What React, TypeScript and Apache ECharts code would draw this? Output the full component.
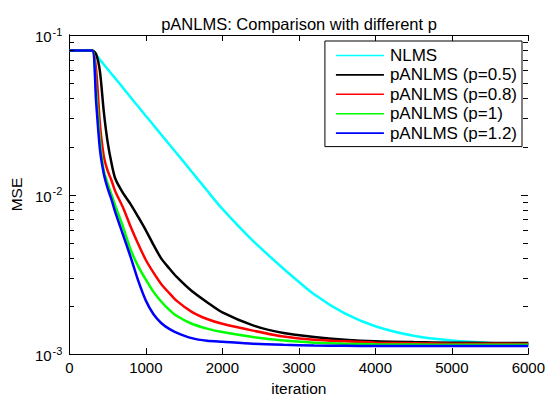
import React, { useEffect, useRef } from "react";
import * as echarts from "echarts";

const iterations = [0, 100, 200, 300, 350, 400, 450, 500, 550, 600, 700, 800, 900, 1000, 1100, 1200, 1300, 1400, 1600, 1800, 2000, 2400, 2800, 3200, 3600, 4000, 4500, 5000, 5500, 6000];

const nlms = [0.08, 0.08, 0.08, 0.08, 0.0748, 0.07, 0.0653, 0.0611, 0.0571, 0.0535, 0.0467, 0.0407, 0.0356, 0.0311, 0.0272, 0.0238, 0.0208, 0.0182, 0.0139, 0.01059, 0.00813, 0.00513, 0.00343, 0.002371, 0.001799, 0.001496, 0.001303, 0.001216, 0.001175, 0.001161];
const p05 = [0.08, 0.08, 0.08, 0.08, 0.0759, 0.0589, 0.0331, 0.0214, 0.0158, 0.0126, 0.01023, 0.00871, 0.00724, 0.00597, 0.00484, 0.00398, 0.00347, 0.003055, 0.002483, 0.002113, 0.001824, 0.001514, 0.001355, 0.001279, 0.00123, 0.001202, 0.001189, 0.00118, 0.001175, 0.001175];
const p08 = [0.08, 0.08, 0.08, 0.08, 0.0603, 0.0275, 0.0174, 0.0141, 0.0123, 0.01047, 0.00832, 0.00631, 0.0049, 0.00389, 0.00324, 0.002754, 0.00243, 0.002163, 0.001841, 0.00166, 0.001549, 0.001403, 0.001288, 0.00123, 0.001202, 0.00118, 0.001169, 0.001161, 0.001161, 0.001159];
const p10 = [0.08, 0.08, 0.08, 0.08, 0.0447, 0.0219, 0.0141, 0.01175, 0.01, 0.00851, 0.00631, 0.00452, 0.00355, 0.00293, 0.002455, 0.002138, 0.001905, 0.001738, 0.001549, 0.001445, 0.001374, 0.001279, 0.001216, 0.00118, 0.001161, 0.001153, 0.001148, 0.001143, 0.001143, 0.001143];
const p12 = [0.08, 0.08, 0.08, 0.08, 0.038, 0.0191, 0.0135, 0.01096, 0.00933, 0.00776, 0.00562, 0.00407, 0.002884, 0.002163, 0.001778, 0.001567, 0.001445, 0.001365, 0.001259, 0.001211, 0.001194, 0.001161, 0.001143, 0.001132, 0.001127, 0.001122, 0.001122, 0.001122, 0.001122, 0.001122];

const seriesNames = ["NLMS", "pANLMS (p=0.5)", "pANLMS (p=0.8)", "pANLMS (p=1)", "pANLMS (p=1.2)"];
const seriesColors = ["#00ffff", "#000000", "#ff0000", "#00ff00", "#0000ff"];
const seriesValues = [nlms, p05, p08, p10, p12];

const xTicks = [0, 1000, 2000, 3000, 4000, 5000, 6000];
const majorYTicks = [0.001, 0.01, 0.1];
const minorYTicks = [0.002, 0.003, 0.004, 0.005, 0.006, 0.007, 0.008, 0.009, 0.02, 0.03, 0.04, 0.05, 0.06, 0.07, 0.08, 0.09];

const FONT = "Liberation Sans";

export default function App() {
  const ref = useRef<HTMLDivElement>(null);
  useEffect(() => {
    document.body.style.margin = "0";
    const chart = echarts.init(ref.current!, null, { renderer: "svg" });
    const yLabel = (v: number) => {
      const e = Math.round(Math.log10(v));
      return `{b|10}{s|${e}}`;
    };
    const yRich = {
      b: { fontSize: 15, fontFamily: FONT, color: "#000", lineHeight: 18, verticalAlign: "bottom" },
      s: { fontSize: 11, fontFamily: FONT, color: "#000", lineHeight: 18, verticalAlign: "top", padding: [0, 0, 6, 1] },
    };
    const lineSeries = seriesNames.map((name, k) => ({
      name,
      type: "line",
      data: iterations.map((it, i) => [it, seriesValues[k][i]]),
      showSymbol: false,
      symbol: "none",
      smooth: 0.25,
      lineStyle: { color: seriesColors[k], width: 2.5 },
      itemStyle: { color: seriesColors[k] },
      z: 2 + k,
    }));
    chart.setOption({
      animation: false,
      backgroundColor: "#fff",
      title: {
        text: "pANLMS: Comparison with different p",
        left: 294,
        top: 10,
        textAlign: "center",
        textStyle: { fontFamily: FONT, fontSize: 16.5, fontWeight: "normal", color: "#000" },
      },
      grid: { left: 69, right: 19, top: 35, bottom: 42 },
      legend: {
        data: seriesNames,
        orient: "vertical",
        right: 26,
        top: 41,
        icon: "rect",
        itemWidth: 48,
        itemHeight: 1.6,
        itemGap: 2.4,
        padding: [6, 5, 5, 11],
        backgroundColor: "#fff",
        borderColor: "#000",
        borderWidth: 1,
        borderRadius: 0,
        textStyle: { fontFamily: FONT, fontSize: 17, color: "#000", padding: [0, 0, 0, 1] },
        z: 20,
      },
      xAxis: [
        {
          type: "value",
          min: 0,
          max: 6000,
          interval: 1000,
          name: "iteration",
          nameLocation: "middle",
          nameGap: 24,
          nameTextStyle: { fontFamily: FONT, fontSize: 15.5, color: "#000" },
          axisLine: { show: true, lineStyle: { color: "#000", width: 1 } },
          axisTick: { show: true, inside: true, length: 6, lineStyle: { color: "#000" } },
          axisLabel: {
            margin: 6,
            fontFamily: FONT,
            fontSize: 15,
            color: "#000",
            formatter: (v: number) => (xTicks.includes(v) ? String(v) : ""),
          },
          splitLine: { show: false },
        },
        {
          type: "value",
          position: "top",
          min: 0,
          max: 6000,
          interval: 1000,
          axisLine: { show: true, lineStyle: { color: "#000", width: 1 } },
          axisTick: { show: true, inside: true, length: 6, lineStyle: { color: "#000" } },
          axisLabel: { show: false },
          splitLine: { show: false },
        },
      ],
      yAxis: [
        {
          type: "log",
          logBase: 10,
          min: 0.001,
          max: 0.1,
          name: "MSE",
          nameLocation: "middle",
          nameGap: 43,
          nameTextStyle: { fontFamily: FONT, fontSize: 15.5, color: "#000" },
          axisLine: { show: true, lineStyle: { color: "#000", width: 1 } },
          axisTick: { show: false },
          minorTick: { show: false },
          axisLabel: { margin: 7, formatter: yLabel, rich: yRich },
          splitLine: { show: false },
        },
        {
          type: "log",
          logBase: 10,
          min: 0.001,
          max: 0.1,
          position: "right",
          axisLine: { show: true, lineStyle: { color: "#000", width: 1 } },
          axisTick: { show: false },
          minorTick: { show: false },
          axisLabel: { show: false },
          splitLine: { show: false },
        },
      ],
      series: lineSeries,
    });

    const xl = Math.round(chart.convertToPixel({ xAxisIndex: 0 }, 0) as number);
    const xr = Math.round(chart.convertToPixel({ xAxisIndex: 0 }, 6000) as number);
    const tickEls: any[] = [];
    const addTick = (v: number, len: number) => {
      const y = Math.round(chart.convertToPixel({ yAxisIndex: 0 }, v) as number) + 0.5;
      tickEls.push({ type: "line", silent: true, z: 30, shape: { x1: xl, y1: y, x2: xl + len, y2: y }, style: { stroke: "#000", lineWidth: 1 } });
      tickEls.push({ type: "line", silent: true, z: 30, shape: { x1: xr, y1: y, x2: xr - len, y2: y }, style: { stroke: "#000", lineWidth: 1 } });
    };
    majorYTicks.forEach((v) => addTick(v, 7));
    minorYTicks.forEach((v) => addTick(v, 5));
    chart.setOption({ graphic: tickEls });

    return () => chart.dispose();
  }, []);
  return <div ref={ref} style={{ width: 548, height: 401 }} />;
}
